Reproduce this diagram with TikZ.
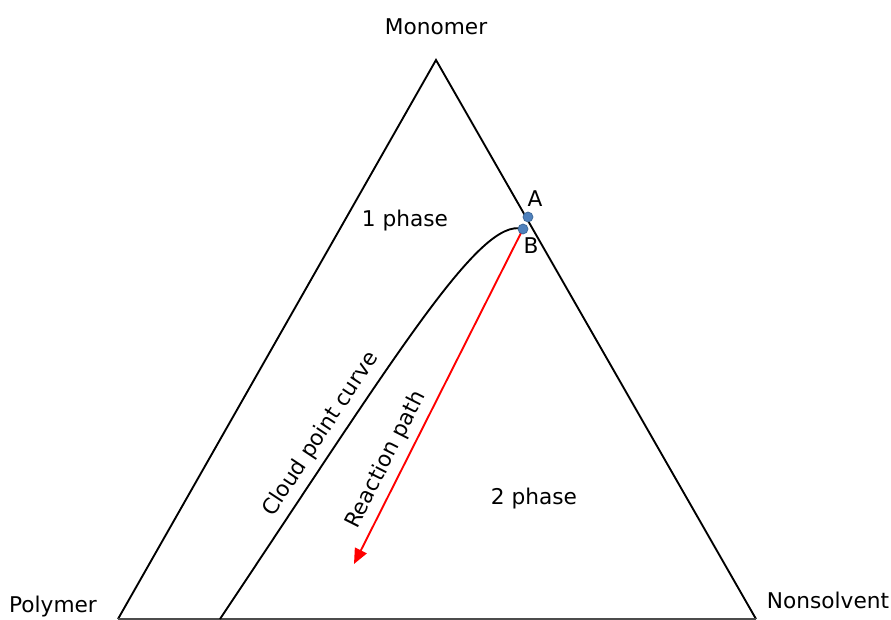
\documentclass[tikz,border=0pt]{standalone}
\usepackage{fontspec}
\setmainfont{DejaVu Sans}
\usetikzlibrary{arrows.meta}
\definecolor{dotblue}{HTML}{4F81BD}
\definecolor{dotedge}{HTML}{3A6595}
\begin{document}
\begin{tikzpicture}[x=0.03cm, y=-0.03cm,
  lbl/.style={inner sep=0pt, font=\fontsize{18.5}{21}\selectfont},
  edge/.style={line width=1.6pt, black},
  pt/.style={circle, fill=dotblue, draw=dotedge, line width=0.6pt, minimum size=8.5pt, inner sep=0pt}]
\useasboundingbox (0,0) rectangle (891,620);
% corners of the ternary diagram
\coordinate (top) at (436,60);
\coordinate (left) at (118,619);
\coordinate (right) at (756,619);
\coordinate (cstart) at (220,619);
\coordinate (tip) at (354,564);
% triangle
\draw[edge] (left) -- (top) -- (right);
\draw[line width=1.1pt, black!70] (left) -- (right);
% cloud point curve
\draw[edge] (cstart) .. controls (395,357) and (480,216) .. (523,229);
% reaction path
\draw[red, line width=1.6pt, -{Triangle[length=13pt,width=11pt]}] (523,229) -- (tip);
% compositions A and B
\node[pt] (A) at (528,217) {};
\node[pt] (B) at (523,229) {};
% labels
\node[lbl] (lmono) at (436,27) {Monomer};
\node[lbl] (lpoly) at (53,607) {Polymer};
\node[lbl] (lnons) at (828,600) {Nonsolvent};
\node[lbl] (l1) at (405,221) {1 phase};
\node[lbl] (l2) at (534,499) {2 phase};
\node[lbl] (lA) at (535,199) {A};
\node[lbl] (lB) at (531,246) {B};
\node[lbl, rotate=56.5] (lcloud) at (321,434) {Cloud point curve};
\node[lbl, rotate=63.2] (lreact) at (386,460) {Reaction path};
\end{tikzpicture}
\end{document}
